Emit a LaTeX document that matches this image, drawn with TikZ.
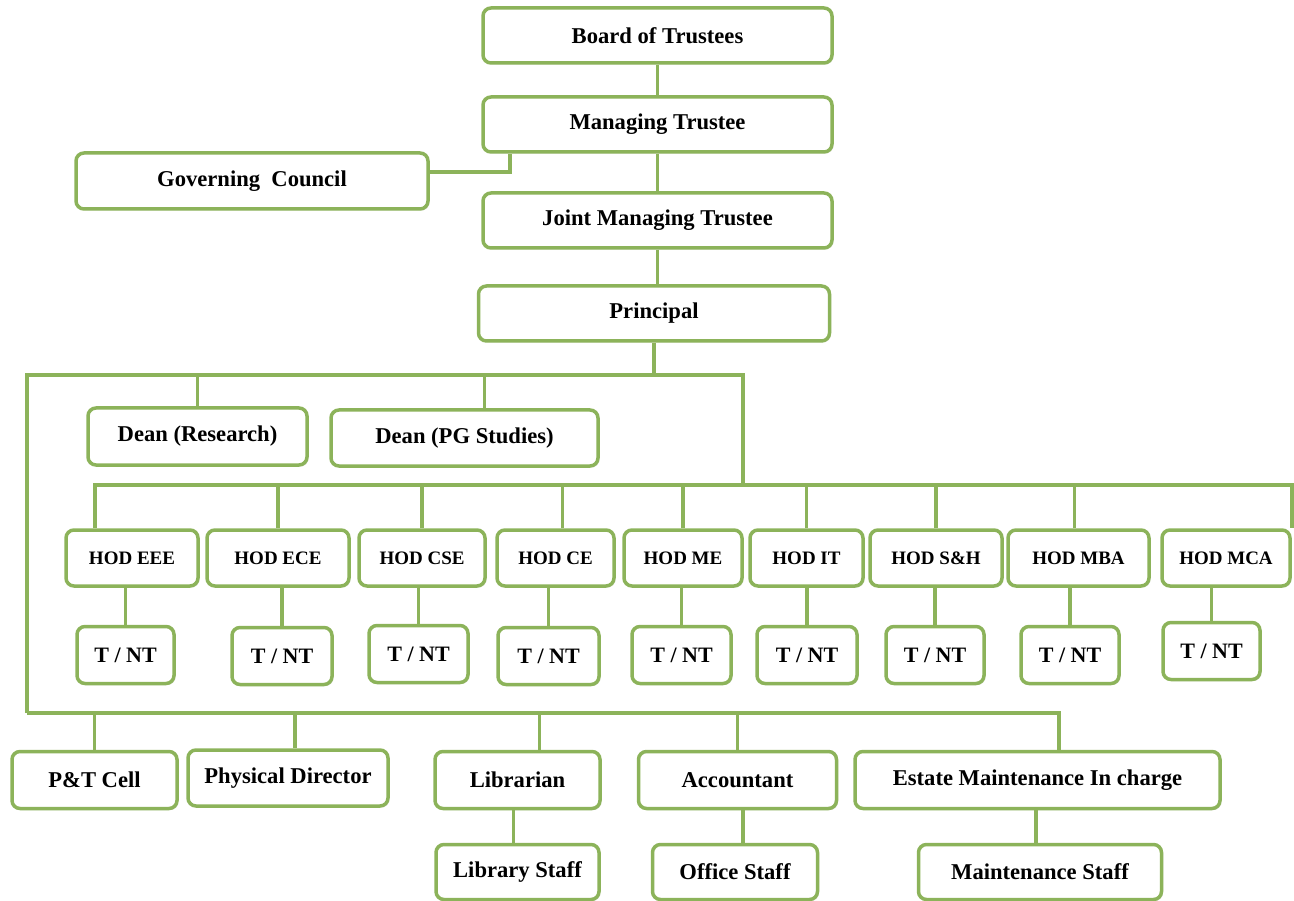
\documentclass[tikz,border=0pt]{standalone}
\usepackage{fontspec}
\setmainfont{Liberation Serif}
\usepackage{tikz}
\usetikzlibrary{shadows}
\definecolor{org_green}{HTML}{8CB35A}

\begin{document}
\begin{tikzpicture}[x=1pt, y=-1pt,
    box/.style={draw=org_green, line width=3.5pt, rounded corners=8pt, fill=white, inner sep=0pt,
      font=\bfseries\fontsize{22.6}{24}\selectfont,
      drop shadow={opacity=0.18, shadow xshift=1.5pt, shadow yshift=-1.5pt}},
    hodbox/.style={box, font=\bfseries\fontsize{19}{21}\selectfont, minimum height=56pt},
    tntbox/.style={box, font=\bfseries\fontsize{22}{24}\selectfont, minimum height=57pt},
    link/.style={draw=org_green, line width=3.5pt}]
    \useasboundingbox (0,0) rectangle (1294,901);
    % top of the chart
    \node[box, minimum width=349pt, minimum height=55pt] (board) at (657.5,35.5) {Board of Trustees};
    \node[box, minimum width=349pt, minimum height=55pt] (mt) at (657.5,124.5) {Managing Trustee};
    \node[box, minimum width=352pt, minimum height=56pt] (gc) at (252,181) {Governing\ \ Council};
    \node[box, minimum width=349pt, minimum height=55pt] (jmt) at (657.5,220.5) {Joint Managing Trustee};
    \node[box, minimum width=351pt, minimum height=55pt] (principal) at (654,313.5) {Principal};
    \node[box, minimum width=219pt, minimum height=57pt] (deanR) at (197.5,436.5) {Dean (Research)};
    \node[box, minimum width=267pt, minimum height=56pt] (deanPG) at (464.5,438) {Dean (PG Studies)};
    % heads of department
    \node[hodbox, minimum width=132pt] (hodEEE) at (132,558) {HOD EEE};
    \node[hodbox, minimum width=142pt] (hodECE) at (278,558) {HOD ECE};
    \node[hodbox, minimum width=126pt] (hodCSE) at (422,558) {HOD CSE};
    \node[hodbox, minimum width=117pt] (hodCE) at (555.5,558) {HOD CE};
    \node[hodbox, minimum width=118pt] (hodME) at (683,558) {HOD ME};
    \node[hodbox, minimum width=113pt] (hodIT) at (806.5,558) {HOD IT};
    \node[hodbox, minimum width=132pt] (hodSH) at (936,558) {HOD S\&H};
    \node[hodbox, minimum width=141pt] (hodMBA) at (1078.5,558) {HOD MBA};
    \node[hodbox, minimum width=128pt] (hodMCA) at (1226,558) {HOD MCA};
    \node[tntbox, minimum width=97pt] (tntEEE) at (125.5,655) {T / NT};
    \node[tntbox, minimum width=100pt] (tntECE) at (282,656) {T / NT};
    \node[tntbox, minimum width=99pt] (tntCSE) at (418.5,654) {T / NT};
    \node[tntbox, minimum width=101pt] (tntCE) at (548.5,656) {T / NT};
    \node[tntbox, minimum width=99pt] (tntME) at (681.5,655) {T / NT};
    \node[tntbox, minimum width=100pt] (tntIT) at (807,655) {T / NT};
    \node[tntbox, minimum width=98pt] (tntSH) at (935,655) {T / NT};
    \node[tntbox, minimum width=98pt] (tntMBA) at (1070,655) {T / NT};
    \node[tntbox, minimum width=97pt] (tntMCA) at (1211.5,651) {T / NT};
    % staff at the bottom
    \node[box, minimum width=165pt, minimum height=57pt] (ptcell) at (94.5,780) {P\&T Cell};
    \node[box, minimum width=200pt, minimum height=56pt] (physdir) at (288,778) {Physical Director};
    \node[box, minimum width=165pt, minimum height=57pt] (librarian) at (517.5,780) {Librarian};
    \node[box, minimum width=198pt, minimum height=57pt] (accountant) at (737.5,780) {Accountant};
    \node[box, minimum width=365pt, minimum height=57pt] (estate) at (1037.5,780) {Estate Maintenance In charge};
    \node[box, minimum width=163pt, minimum height=55pt] (libstaff) at (517.5,872) {Library Staff};
    \node[box, minimum width=165pt, minimum height=55pt] (offstaff) at (735,872) {Office Staff};
    \node[box, minimum width=243pt, minimum height=55pt] (mstaff) at (1040,872) {Maintenance Staff};
    % bus lines
    \coordinate (gcJoin) at (510,172);
    \coordinate (topL) at (27,375);
    \coordinate (topR) at (743,375);
    \coordinate (hodL) at (95,485);
    \coordinate (hodR) at (1292,485);
    \coordinate (botL) at (27,713);
    \coordinate (botR) at (1059,713);
    \draw[link] (board) -- (mt);
    \draw[link] (mt) -- (jmt);
    \draw[link] (gc.east |- gcJoin) -- (gcJoin) -- (gcJoin |- mt.south);
    \draw[link] (jmt.south) -- (jmt.south |- principal.north);
    \draw[link] (principal.south) -- (principal.south |- topL);
    \draw[link] (botL) -- (topL) -- (topR) -- (topR |- hodL);
    \draw[link] (deanR.north) -- (deanR.north |- topL);
    \draw[link] ([xshift=20pt]deanPG.north) -- ([xshift=20pt]deanPG.north |- topL);
    \draw[link] (hodL |- hodEEE.north) -- (hodL) -- (hodR) -- (hodR |- hodMCA.north);
    \draw[link] (hodECE.north) -- (hodECE.north |- hodL);
    \draw[link] (hodCSE.north) -- (hodCSE.north |- hodL);
    \draw[link] ([xshift=7pt]hodCE.north) -- ([xshift=7pt]hodCE.north |- hodL);
    \draw[link] (hodME.north) -- (hodME.north |- hodL);
    \draw[link] (hodIT.north) -- (hodIT.north |- hodL);
    \draw[link] (hodSH.north) -- (hodSH.north |- hodL);
    \draw[link] ([xshift=-4pt]hodMBA.north) -- ([xshift=-4pt]hodMBA.north |- hodL);
    \draw[link] (tntEEE.north) -- (tntEEE.north |- hodEEE.south);
    \draw[link] (tntECE.north) -- (tntECE.north |- hodECE.south);
    \draw[link] (tntCSE.north) -- (tntCSE.north |- hodCSE.south);
    \draw[link] (tntCE.north) -- (tntCE.north |- hodCE.south);
    \draw[link] (tntME.north) -- (tntME.north |- hodME.south);
    \draw[link] (tntIT.north) -- (tntIT.north |- hodIT.south);
    \draw[link] (tntSH.north) -- (tntSH.north |- hodSH.south);
    \draw[link] (tntMBA.north) -- (tntMBA.north |- hodMBA.south);
    \draw[link] (tntMCA.north) -- (tntMCA.north |- hodMCA.south);
    \draw[link] (botL) -- (botR) -- (botR |- estate.north);
    \draw[link] (ptcell.north) -- (ptcell.north |- botL);
    \draw[link] ([xshift=7pt]physdir.north) -- ([xshift=7pt]physdir.north |- botL);
    \draw[link] ([xshift=22pt]librarian.north) -- ([xshift=22pt]librarian.north |- botL);
    \draw[link] (accountant.north) -- (accountant.north |- botL);
    \draw[link] ([xshift=-4pt]libstaff.north) -- ([xshift=-4pt]libstaff.north |- librarian.south);
    \draw[link] ([xshift=8pt]offstaff.north) -- ([xshift=8pt]offstaff.north |- accountant.south);
    \draw[link] ([xshift=-4pt]mstaff.north) -- ([xshift=-4pt]mstaff.north |- estate.south);
  \end{tikzpicture}
\end{document}
